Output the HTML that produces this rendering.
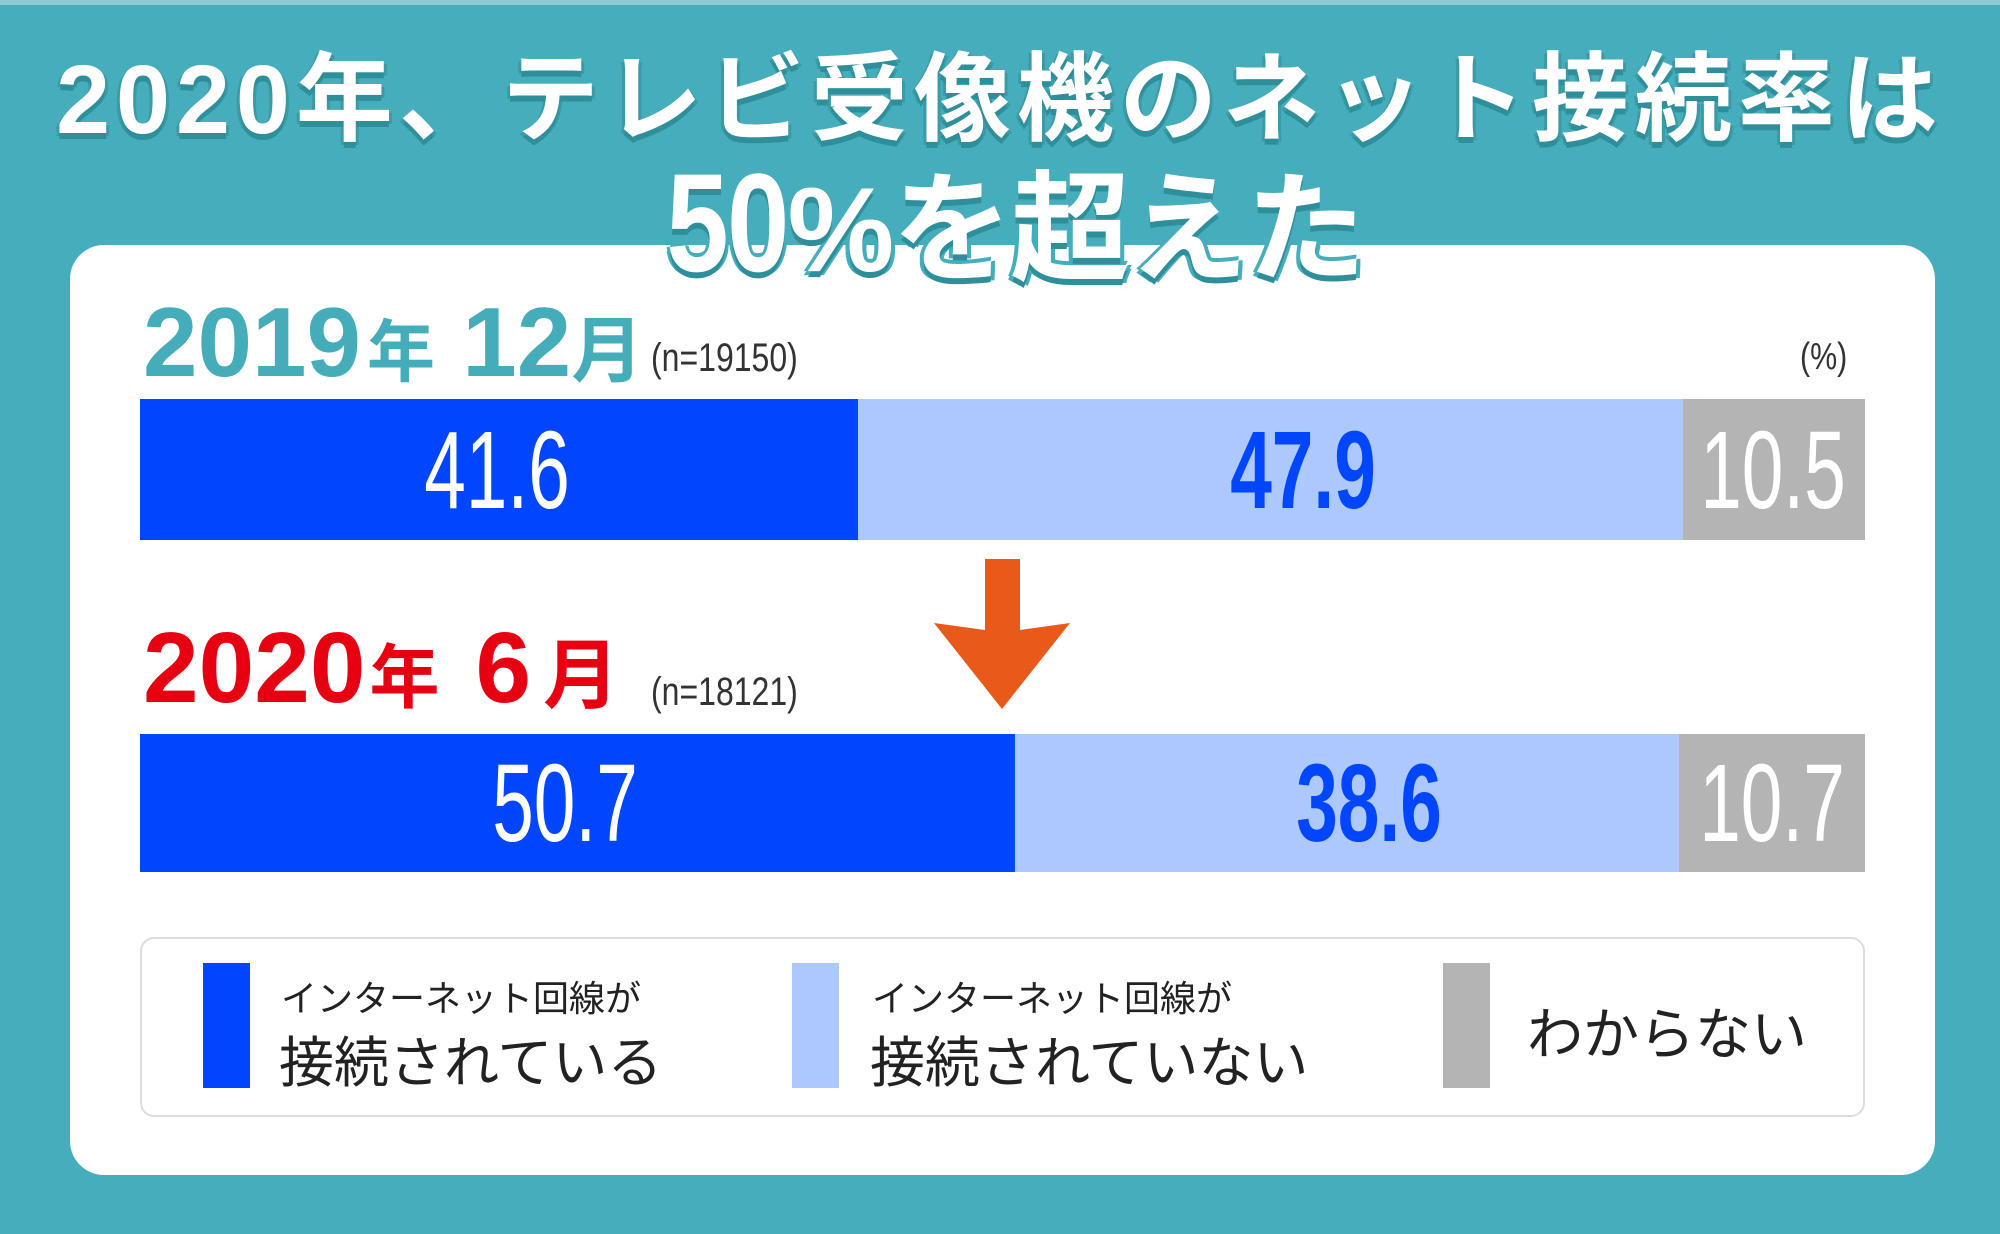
<!DOCTYPE html>
<html><head><meta charset="utf-8"><style>
body{margin:0;width:2000px;height:1234px;background:#45adbb;position:relative;overflow:hidden;font-family:"Liberation Sans","Noto Sans CJK JP",sans-serif;}
.a{position:absolute;white-space:nowrap;}
.card{position:absolute;left:70px;top:245px;width:1865px;height:930px;background:#fff;border-radius:34px;}
.t{color:#fff;font-weight:bold;text-shadow:0 6px 0 #2e8f9b,3px 3px 0 #3a9aa6,-3px 3px 0 #3a9aa6;}
.seg{position:absolute;}
.lbl{position:absolute;font-size:110px;line-height:110px;transform:scaleX(0.68);transform-origin:center;text-align:center;width:300px;}
</style></head><body>
<div style="position:absolute;left:0;top:0;width:2000px;height:5px;background:#8fcad2"></div>
<div class="card"></div>
<div class="a t" style="left:40px;top:45px;width:1920px;text-align:center;font-size:97px;line-height:110px;letter-spacing:6px;">2020年、テレビ受像機のネット接続率は</div>
<div class="a t" style="left:600px;top:158px;width:800px;text-align:center;font-size:120px;line-height:130px;letter-spacing:-2px;text-shadow:0 6px 0 #2e8f9b,4px 0 0 #45adbb,-4px 0 0 #45adbb,0 -4px 0 #45adbb,4px 4px 0 #45adbb,-4px 4px 0 #45adbb;"><span style="font-size:140px;display:inline-block;transform:scaleX(.8);transform-origin:right;">50</span>%を超えた</div>

<div class="a" style="left:143px;top:292px;color:#45adb9;font-weight:bold;font-size:98px;line-height:100px;">2019<span style="font-size:68px;margin-left:6px">年</span> 12<span style="font-size:72px">月</span></div>
<div class="a" style="left:651px;top:336px;font-size:40px;color:#333;transform:scaleX(.8);transform-origin:0 0;">(n=19150)</div>
<div class="a" style="left:1800px;top:336px;font-size:38px;color:#333;transform:scaleX(.8);transform-origin:0 0;">(%)</div>

<div class="seg" style="left:140px;top:399px;width:718px;height:141px;background:#0046ff"></div>
<div class="seg" style="left:858px;top:399px;width:825px;height:141px;background:#adc8fc"></div>
<div class="seg" style="left:1683px;top:399px;width:182px;height:141px;background:#b4b4b4"></div>
<div class="lbl" style="left:347px;top:416px;color:#fff">41.6</div>
<div class="lbl" style="left:1153px;top:416px;color:#0046ff;font-weight:bold">47.9</div>
<div class="lbl" style="left:1623px;top:416px;color:#fff">10.5</div>

<svg style="position:absolute;left:930px;top:555px" width="145" height="160"><path d="M55 4H90V75L140 68 72 154 4 68 55 75Z" fill="#e85a1a"/></svg>

<div class="a" style="left:143px;top:618px;color:#e60012;font-weight:bold;font-size:100px;line-height:100px;">2020<span style="font-size:70px;margin-left:4px">年</span><span style="margin-left:36px">6</span><span style="font-size:76px;margin-left:12px">月</span></div>
<div class="a" style="left:651px;top:670px;font-size:40px;color:#333;transform:scaleX(.8);transform-origin:0 0;">(n=18121)</div>

<div class="seg" style="left:140px;top:734px;width:875px;height:138px;background:#0046ff"></div>
<div class="seg" style="left:1015px;top:734px;width:664px;height:138px;background:#adc8fc"></div>
<div class="seg" style="left:1679px;top:734px;width:186px;height:138px;background:#b4b4b4"></div>
<div class="lbl" style="left:415px;top:749px;color:#fff">50.7</div>
<div class="lbl" style="left:1219px;top:749px;color:#0046ff;font-weight:bold">38.6</div>
<div class="lbl" style="left:1622px;top:749px;color:#fff">10.7</div>

<div style="position:absolute;left:140px;top:937px;width:1721px;height:176px;border:2px solid #ddd;border-radius:14px;background:#fff"></div>
<div class="seg" style="left:203px;top:963px;width:47px;height:125px;background:#0046ff"></div>
<div class="seg" style="left:792px;top:963px;width:47px;height:125px;background:#adc8fc"></div>
<div class="seg" style="left:1443px;top:963px;width:47px;height:125px;background:#b4b4b4"></div>
<div class="a" style="left:281px;top:970px;font-size:36px;color:#222;">インターネット回線が</div>
<div class="a" style="left:279px;top:1018px;font-size:55px;color:#222;">接続されている</div>
<div class="a" style="left:872px;top:970px;font-size:36px;color:#222;">インターネット回線が</div>
<div class="a" style="left:870px;top:1018px;font-size:55px;color:#222;">接続されていない</div>
<div class="a" style="left:1527px;top:990px;font-size:56px;color:#222;">わからない</div>
</body></html>
